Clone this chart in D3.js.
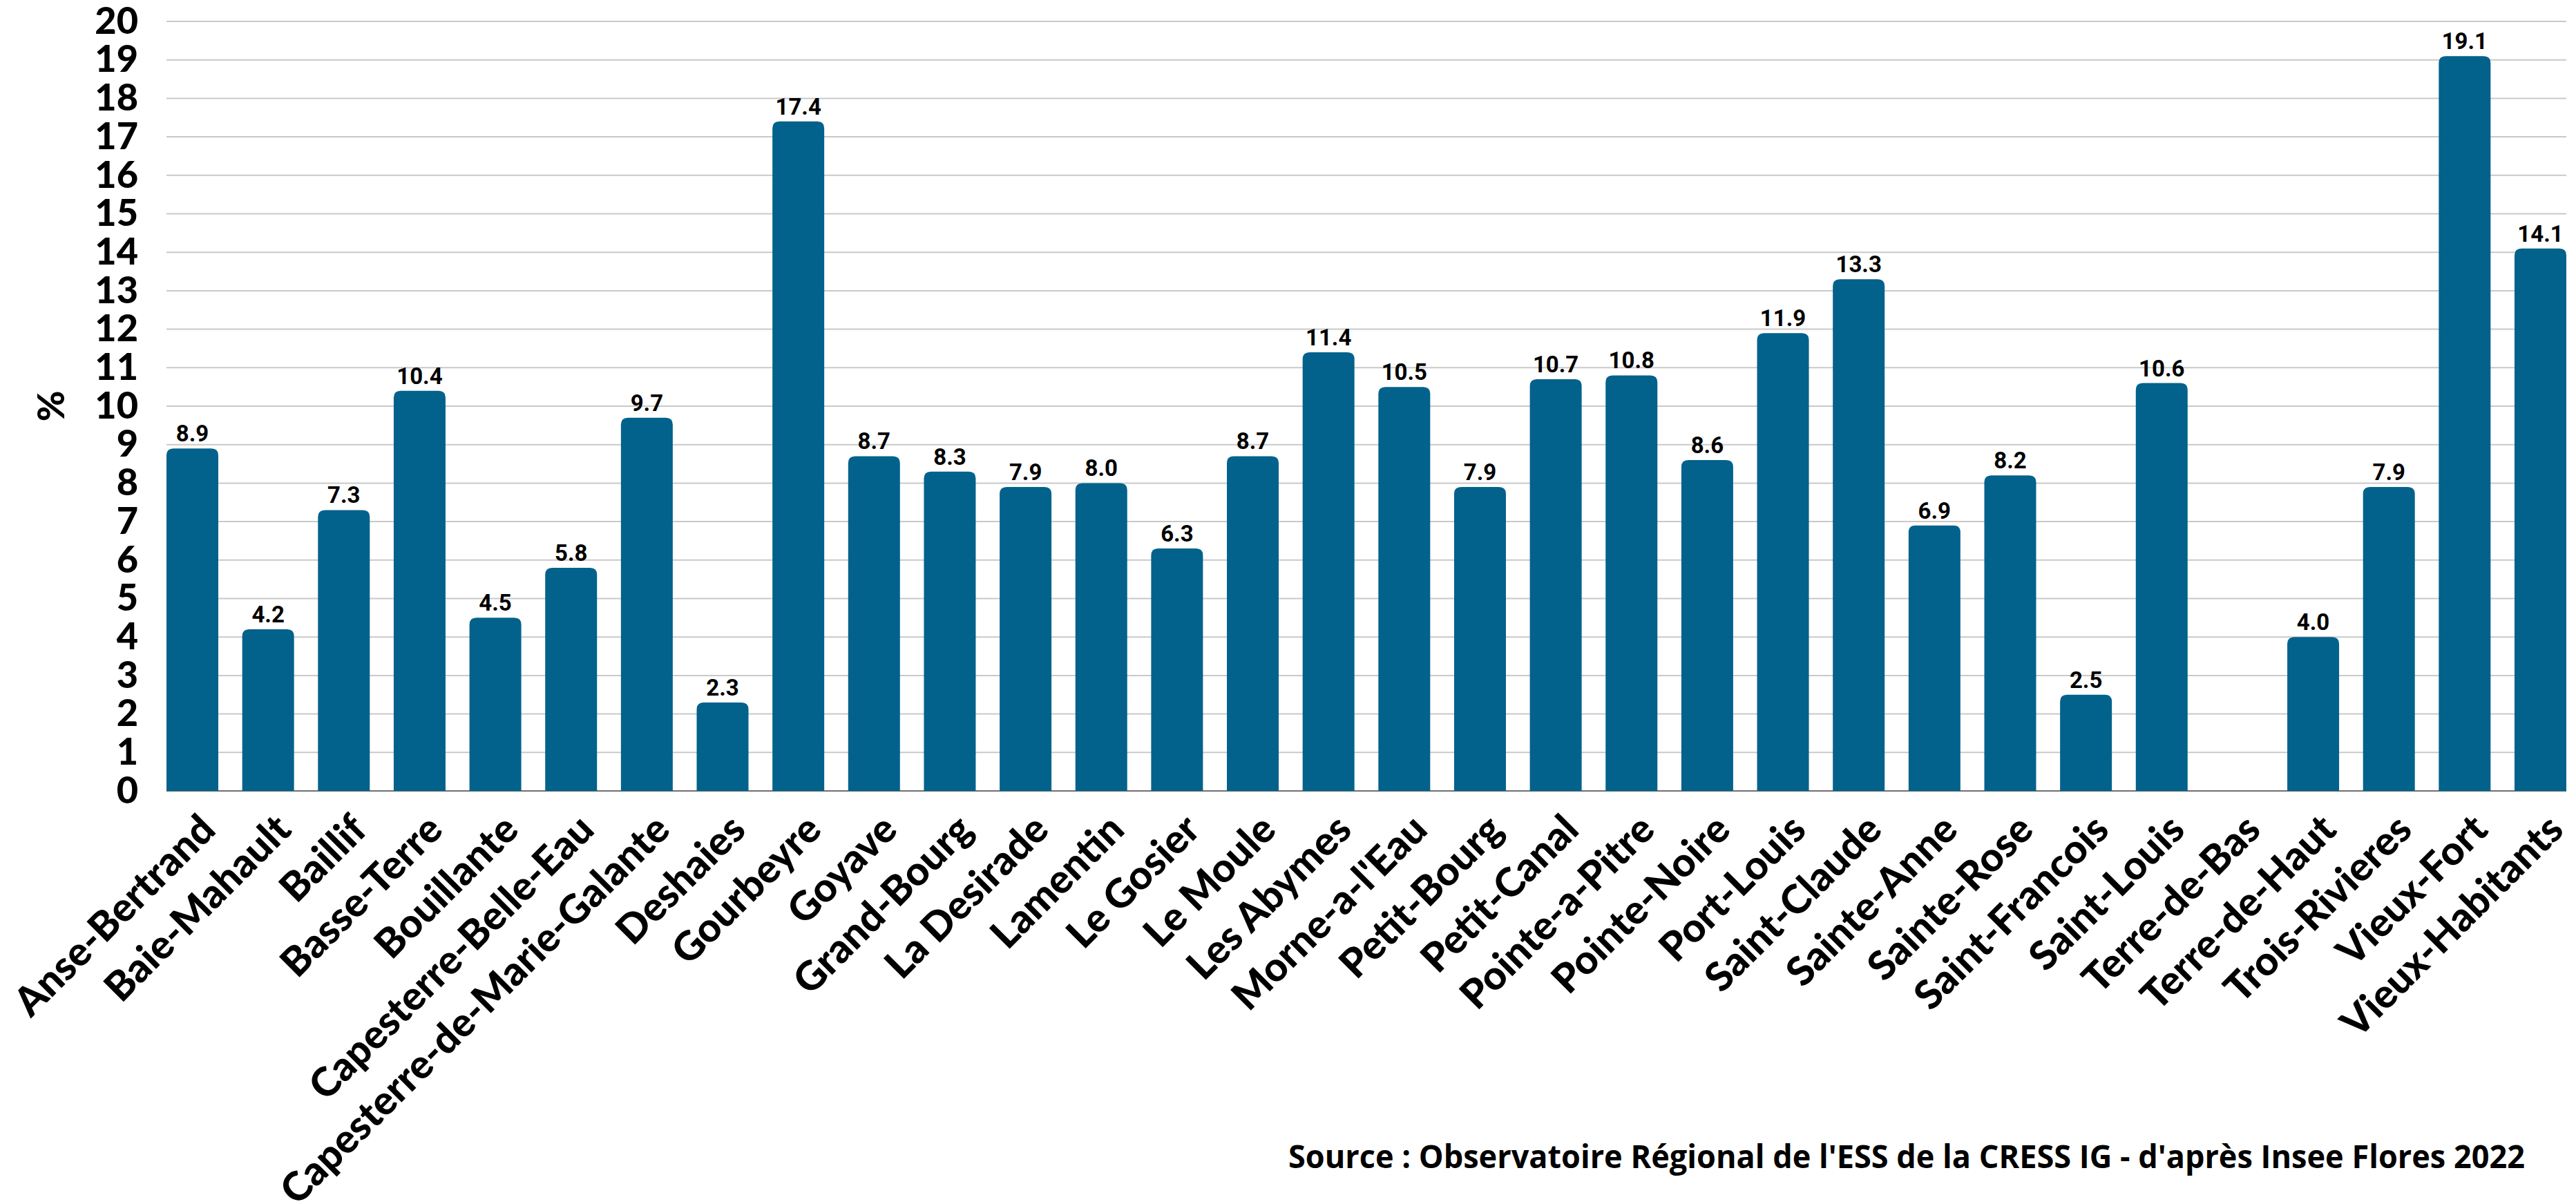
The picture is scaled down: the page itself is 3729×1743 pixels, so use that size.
<!DOCTYPE html>
<html>
<head>
<meta charset="utf-8">
<script src="https://cdn.jsdelivr.net/npm/d3@7"></script>
<style>
  body { margin: 0; background: #fff; }
</style>
</head>
<body>
<div id="chart"></div>
<script>
/* Data. */
const communes = ["Anse-Bertrand", "Baie-Mahault", "Baillif", "Basse-Terre", "Bouillante",
  "Capesterre-Belle-Eau", "Capesterre-de-Marie-Galante", "Deshaies", "Gourbeyre", "Goyave",
  "Grand-Bourg", "La Desirade", "Lamentin", "Le Gosier", "Le Moule", "Les Abymes",
  "Morne-a-l'Eau", "Petit-Bourg", "Petit-Canal", "Pointe-a-Pitre", "Pointe-Noire",
  "Port-Louis", "Saint-Claude", "Sainte-Anne", "Sainte-Rose", "Saint-Francois",
  "Saint-Louis", "Terre-de-Bas", "Terre-de-Haut", "Trois-Rivieres", "Vieux-Fort",
  "Vieux-Habitants"]
const shares = [8.9, 4.2, 7.3, 10.4, 4.5, 5.8, 9.7, 2.3, 17.4, 8.7, 8.3, 7.9, 8.0, 6.3, 8.7,
  11.4, 10.5, 7.9, 10.7, 10.8, 8.6, 11.9, 13.3, 6.9, 8.2, 2.5, 10.6, null, 4.0, 7.9, 19.1, 14.1]
const yTicks = d3.range(0, 21)
const axisTitle = "%"
const sourceText = "Source : Observatoire Régional de l'ESS de la CRESS IG - d'après Insee Flores 2022"

const rows = communes.map((c, i) => ({ name: c, value: shares[i] }))

/* Size. */
const width = 3729
const height = 1743
const plotLeft = 241
const plotRight = 3715
const plotTop = 31
const plotBottom = 1145
const barColor = "#02628b"

/* Create svg-element. */
const svg = d3.select("#chart")
  .append("svg")
  .attr("width", width)
  .attr("height", height)
  .style("display", "block")

/* Scales. */
const x = d3.scaleBand()
  .domain(communes)
  .range([plotLeft, plotRight])
  .paddingInner(0.316)
  .paddingOuter(0)

const y = d3.scaleLinear()
  .domain([0, 20])
  .range([plotBottom, plotTop])

/* Gridlines. */
svg.append("g")
  .selectAll("line")
  .data(yTicks.filter(t => t > 0))
  .join("line")
  .attr("x1", plotLeft)
  .attr("x2", plotRight)
  .attr("y1", d => y(d))
  .attr("y2", d => y(d))
  .attr("stroke", "#c9c9c9")
  .attr("stroke-width", 2)

/* Baseline. */
svg.append("line")
  .attr("x1", plotLeft)
  .attr("x2", plotRight)
  .attr("y1", y(0))
  .attr("y2", y(0))
  .attr("stroke", "#707070")
  .attr("stroke-width", 2)

/* Y axis. */
const yAxis = d3.axisLeft(y)
  .tickValues(yTicks)
  .tickSize(0)
  .tickPadding(0)
  .tickFormat(d3.format("d"))

svg.append("g")
  .attr("transform", "translate(200,0)")
  .call(yAxis)
  .call(g => g.select(".domain").remove())
  .selectAll("text")
  .attr("font-family", "Lato")
  .attr("font-weight", 900)
  .attr("font-size", 54)
  .attr("fill", "#000")

/* Axis title. */
svg.append("text")
  .attr("transform", "translate(93,588) rotate(-90)")
  .attr("text-anchor", "middle")
  .attr("font-family", "Lato")
  .attr("font-weight", 900)
  .attr("font-size", 54)
  .text(axisTitle)

/* Bars with rounded tops. */
const r = 10
const barPath = d => {
  const x0 = x(d.name)
  const x1 = x0 + x.bandwidth()
  const y0 = y(0)
  const y1 = y(d.value)
  return `M${x0},${y0}V${y1 + r}Q${x0},${y1} ${x0 + r},${y1}H${x1 - r}Q${x1},${y1} ${x1},${y1 + r}V${y0}Z`
}

svg.append("g")
  .selectAll("path")
  .data(rows.filter(d => d.value != null))
  .join("path")
  .attr("d", barPath)
  .attr("fill", barColor)

/* Value labels. */
svg.append("g")
  .selectAll("text")
  .data(rows.filter(d => d.value != null))
  .join("text")
  .attr("x", d => x(d.name) + x.bandwidth() / 2)
  .attr("y", d => y(d.value) - 10)
  .attr("text-anchor", "middle")
  .attr("font-family", "Roboto")
  .attr("font-weight", 700)
  .attr("font-size", 33)
  .text(d => d3.format(".1f")(d.value))

/* Category labels. */
svg.append("g")
  .selectAll("text")
  .data(communes)
  .join("text")
  .attr("transform", d => `translate(${x(d) + x.bandwidth() / 2 + 22},${plotBottom + 45}) rotate(-45)`)
  .attr("text-anchor", "end")
  .attr("dy", "0.35em")
  .attr("font-family", "Lato")
  .attr("font-weight", 900)
  .attr("font-size", 58)
  .text(d => d)

/* Source. */
svg.append("text")
  .attr("x", 1865)
  .attr("y", 1691)
  .attr("font-family", "Open Sans")
  .attr("font-weight", 700)
  .attr("font-size", 47)
  .attr("textLength", 1790)
  .attr("lengthAdjust", "spacingAndGlyphs")
  .text(sourceText)
</script>
</body>
</html>
